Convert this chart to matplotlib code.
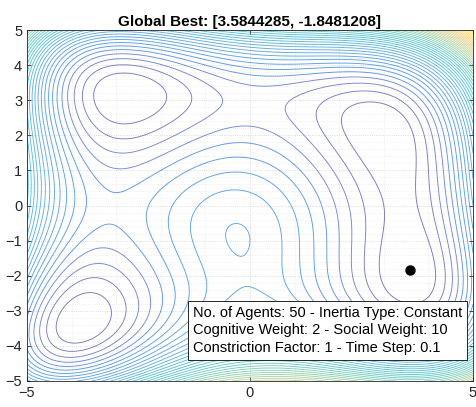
import numpy as np
import matplotlib
matplotlib.use("Agg")
import matplotlib.pyplot as plt
from matplotlib.colors import ListedColormap, Normalize

plt.rcParams['font.family'] = ['Liberation Sans', 'DejaVu Sans']

# Search domain and contour levels of the Himmelblau objective
x_range = [-5, 5]
y_range = [-5, 5]
contour_levels = list(range(20, 900, 20))

# Best position found by the swarm
best_position = [3.5844285, -1.8481208]

title_text = "Global Best: [3.5844285, -1.8481208]"
info_lines = [
    "No. of Agents: 50 - Inertia Type: Constant",
    "Cognitive Weight: 2 - Social Weight: 10",
    "Constriction Factor: 1 - Time Step: 0.1",
]
x_ticks = [-5, 0, 5]
y_ticks = [-5, -4, -3, -2, -1, 0, 1, 2, 3, 4, 5]

# 64-entry parula colormap
parula_rgb = [
    (0.2081, 0.1663, 0.5292), (0.2116, 0.1898, 0.5777), (0.2123, 0.2138, 0.6270),
    (0.2081, 0.2386, 0.6771), (0.1959, 0.2645, 0.7279), (0.1707, 0.2919, 0.7792),
    (0.1253, 0.3242, 0.8303), (0.0591, 0.3598, 0.8683), (0.0117, 0.3875, 0.8820),
    (0.0060, 0.4086, 0.8828), (0.0165, 0.4266, 0.8786), (0.0329, 0.4430, 0.8720),
    (0.0498, 0.4586, 0.8641), (0.0629, 0.4737, 0.8554), (0.0723, 0.4887, 0.8467),
    (0.0779, 0.5040, 0.8384), (0.0793, 0.5200, 0.8312), (0.0749, 0.5375, 0.8263),
    (0.0641, 0.5570, 0.8240), (0.0488, 0.5772, 0.8228), (0.0343, 0.5966, 0.8199),
    (0.0265, 0.6137, 0.8135), (0.0239, 0.6287, 0.8038), (0.0231, 0.6418, 0.7913),
    (0.0228, 0.6535, 0.7768), (0.0267, 0.6642, 0.7607), (0.0384, 0.6743, 0.7436),
    (0.0590, 0.6838, 0.7254), (0.0843, 0.6928, 0.7062), (0.1133, 0.7015, 0.6859),
    (0.1453, 0.7098, 0.6646), (0.1801, 0.7177, 0.6424), (0.2178, 0.7250, 0.6193),
    (0.2586, 0.7317, 0.5954), (0.3022, 0.7376, 0.5712), (0.3482, 0.7424, 0.5473),
    (0.3953, 0.7459, 0.5244), (0.4420, 0.7481, 0.5033), (0.4871, 0.7491, 0.4840),
    (0.5300, 0.7491, 0.4661), (0.5709, 0.7485, 0.4494), (0.6099, 0.7473, 0.4337),
    (0.6473, 0.7456, 0.4188), (0.6834, 0.7435, 0.4044), (0.7184, 0.7411, 0.3905),
    (0.7525, 0.7384, 0.3768), (0.7858, 0.7356, 0.3633), (0.8185, 0.7327, 0.3498),
    (0.8507, 0.7299, 0.3360), (0.8824, 0.7274, 0.3217), (0.9139, 0.7258, 0.3063),
    (0.9450, 0.7261, 0.2886), (0.9739, 0.7314, 0.2666), (0.9938, 0.7455, 0.2403),
    (0.9990, 0.7653, 0.2164), (0.9955, 0.7861, 0.1967), (0.9880, 0.8066, 0.1794),
    (0.9789, 0.8271, 0.1633), (0.9697, 0.8481, 0.1475), (0.9626, 0.8705, 0.1309),
    (0.9589, 0.8949, 0.1132), (0.9598, 0.9218, 0.0948), (0.9661, 0.9514, 0.0755),
    (0.9763, 0.9831, 0.0538),
]
parula = ListedColormap(parula_rgb, name="parula")


def himmelblau(x, y):
    return (x ** 2 + y - 11) ** 2 + (x + y ** 2 - 7) ** 2


xs = np.linspace(x_range[0], x_range[1], 501)
ys = np.linspace(y_range[0], y_range[1], 501)
X, Y = np.meshgrid(xs, ys)
Z = himmelblau(X, Y)

fig = plt.figure(figsize=(4.76, 4.07), dpi=100)
ax = fig.add_axes([27 / 476, 1 - 381 / 407, 446 / 476, 351 / 407])

ax.contour(X, Y, Z, levels=contour_levels, cmap=parula,
           norm=Normalize(vmin=Z.min(), vmax=Z.max()),
           linewidths=0.65, alpha=0.65)

ax.plot(best_position[0], best_position[1], 'o', color='black', markersize=6.5)

ax.set_xlim(x_range)
ax.set_ylim(y_range)
ax.set_xticks(x_ticks)
ax.set_yticks(y_ticks)
ax.set_xticks(np.arange(-5, 5.01, 1), minor=True)
ax.set_yticks(np.arange(-5, 5.01, 0.2), minor=True)
ax.grid(True, which='major', color='#d0d0d0', linestyle=':', linewidth=0.6)
ax.grid(True, which='minor', color='#e4e4e4', linestyle=':', linewidth=0.5)
ax.set_axisbelow(True)
ax.tick_params(which='major', direction='in', length=3, width=0.6,
               labelsize=10.5, colors='#262626', top=True, right=True)
ax.tick_params(which='minor', length=0)
for s in ax.spines.values():
    s.set_color('#262626')
    s.set_linewidth(0.6)

ax.set_title(title_text, fontsize=11, fontweight='bold', color='#000000', pad=3)

ax.text(0.372, 0.144, "\n".join(info_lines), transform=ax.transAxes,
        fontsize=10.5, color='#000000', va='center', ha='left', linespacing=1.3,
        bbox=dict(boxstyle='square,pad=0.35', facecolor='white',
                  edgecolor='#262626', linewidth=0.7))

fig.savefig("out.png", dpi=100)
